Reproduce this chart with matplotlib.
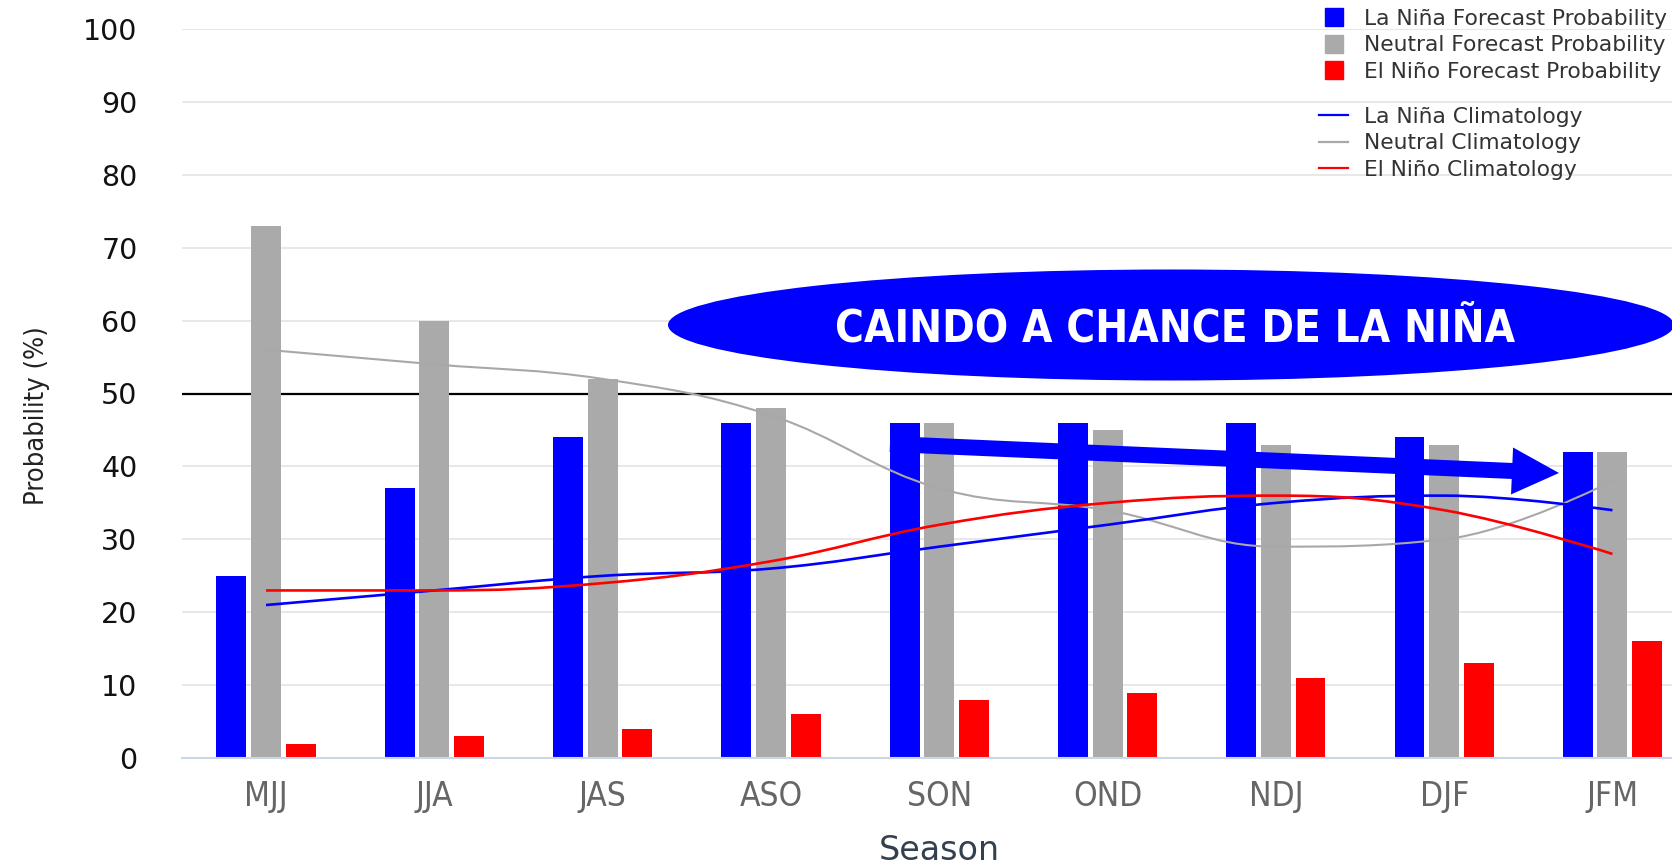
import matplotlib
matplotlib.use("Agg")
import matplotlib.pyplot as plt
import numpy as np
from matplotlib.path import Path
from matplotlib.patches import PathPatch, Ellipse, FancyArrow
from matplotlib.lines import Line2D
from matplotlib.transforms import Affine2D
import matplotlib.font_manager as fm

# ---------------- data ----------------
seasons = ["MJJ", "JJA", "JAS", "ASO", "SON", "OND", "NDJ", "DJF", "JFM"]
lanina_prob = [25, 37, 44, 46, 46, 46, 46, 44, 42]
neutral_prob = [73, 60, 52, 48, 46, 45, 43, 43, 42]
elnino_prob = [2, 3, 4, 6, 8, 9, 11, 13, 16]
lanina_clim = [21, 23, 25, 26, 29, 32, 35, 36, 34]
neutral_clim = [56, 54, 52, 47, 37, 34, 29, 30, 38]
elnino_clim = [23, 23, 24, 27, 32, 35, 36, 34, 28]
y_ticks = [0, 10, 20, 30, 40, 50, 60, 70, 80, 90, 100]
bar_labels = ["La Niña Forecast Probability", "Neutral Forecast Probability",
              "El Niño Forecast Probability"]
line_labels = ["La Niña Climatology", "Neutral Climatology", "El Niño Climatology"]
annotation = "CAINDO A CHANCE DE LA NIÑA"

BLUE, GRAY, RED = "#0000ff", "#aaaaaa", "#ff0000"
GRAYLINE = "#a8a8a8"

avail = {f.name for f in fm.fontManager.ttflist}
HAS_NARROW = "Liberation Sans Narrow" in avail
if HAS_NARROW:
    NARROW = dict(fontfamily=["Liberation Sans Narrow", "DejaVu Sans"])
else:
    NARROW = dict(fontfamily=["DejaVu Sans"], fontstretch="condensed")

W, H = 1672, 865
fig = plt.figure(figsize=(W / 100, H / 100), dpi=100)
fig.patch.set_facecolor("white")
pix = Affine2D().scale(1 / 100, -1 / 100).translate(0, H / 100) + fig.dpi_scale_trans

ax_left, ax_right = 181.9, 1696.6
ax_top, ax_bot = 28.8, 758.2
ax = fig.add_axes([ax_left / W, 1 - ax_bot / H, (ax_right - ax_left) / W, (ax_bot - ax_top) / H])
ax.set_xlim(-0.5, len(seasons) - 0.5)
ax.set_ylim(0, 100)

x = np.arange(len(seasons))
bw = 0.178
off = 0.206
ax.bar(x - off, lanina_prob, bw, color=BLUE, zorder=2)
ax.bar(x, neutral_prob, bw, color=GRAY, zorder=2)
ax.bar(x + off, elnino_prob, bw, color=RED, zorder=2)


def hc_spline(xs, ys, smoothing=1.5):
    n = len(xs)
    left = [None] * n
    right = [None] * n
    right[0] = (xs[0], ys[0])
    left[n - 1] = (xs[-1], ys[-1])
    d = smoothing + 1
    for i in range(1, n - 1):
        px, py = xs[i], ys[i]
        lx, ly = xs[i - 1], ys[i - 1]
        nx, ny = xs[i + 1], ys[i + 1]
        lcx = (smoothing * px + lx) / d
        lcy = (smoothing * py + ly) / d
        rcx = (smoothing * px + nx) / d
        rcy = (smoothing * py + ny) / d
        if rcx != lcx:
            corr = ((rcy - lcy) * (rcx - px)) / (rcx - lcx) + py - rcy
            lcy += corr
            rcy += corr
        if lcy > ly and lcy > py:
            lcy = max(ly, py); rcy = 2 * py - lcy
        elif lcy < ly and lcy < py:
            lcy = min(ly, py); rcy = 2 * py - lcy
        if rcy > ny and rcy > py:
            rcy = max(ny, py); lcy = 2 * py - rcy
        elif rcy < ny and rcy < py:
            rcy = min(ny, py); lcy = 2 * py - rcy
        left[i] = (lcx, lcy)
        right[i] = (rcx, rcy)
    verts = [(xs[0], ys[0])]
    codes = [Path.MOVETO]
    for i in range(1, n):
        verts += [right[i - 1], left[i], (xs[i], ys[i])]
        codes += [Path.CURVE4] * 3
    return Path(verts, codes)


for vals, col, lw in [(neutral_clim, GRAYLINE, 1.5), (lanina_clim, BLUE, 1.9), (elnino_clim, RED, 1.9)]:
    ax.add_patch(PathPatch(hc_spline(list(x.astype(float)), list(map(float, vals))),
                           fill=False, edgecolor=col, lw=lw, zorder=3, capstyle="butt"))

# grid & axes styling
ax.set_yticks(y_ticks)
ax.yaxis.grid(True, color="#e6e6e6", lw=1.3, zorder=0)
ax.set_axisbelow(True)
ax.axhline(50, color="black", lw=1.6, zorder=1)
for s in ["left", "right", "top"]:
    ax.spines[s].set_visible(False)
ax.spines["bottom"].set_color("#ccd6eb")
ax.spines["bottom"].set_linewidth(1.5)
ax.spines["bottom"].set_zorder(2.5)
ax.tick_params(axis="both", length=0)
ax.tick_params(axis="y", pad=32, labelsize=20.5, labelcolor="#111111")
ax.set_xticks(x)
ax.set_xticklabels(seasons, fontsize=(24 if HAS_NARROW else 24), color="#666666", **NARROW)
ax.tick_params(axis="x", pad=16)
for t in ax.get_yticklabels():
    t.set_fontfamily("DejaVu Sans")

ax.set_xlabel("Season", fontfamily="DejaVu Sans", fontsize=24, color="#34404d")
ax.xaxis.set_label_coords(0.5, (ax_bot - 850) / (ax_bot - ax_top))
ax.xaxis.label.set_va("center")
ax.set_ylabel("Probability (%)", fontsize=(23 if HAS_NARROW else 19.5), color="#222222", **NARROW)
ax.yaxis.set_label_coords((37 - ax_left) / (ax_right - ax_left), (ax_bot - 416) / (ax_bot - ax_top))
ax.yaxis.label.set_va("center")
ax.yaxis.label.set_ha("center")

# legends
fs_leg = 15.7
bar_handles = [Line2D([], [], marker="s", markersize=13.5, linestyle="none", color=c) for c in (BLUE, GRAY, RED)]
line_handles = [Line2D([], [], color=c, lw=1.6) for c in (BLUE, GRAYLINE, RED)]
common = dict(loc="upper left", bbox_transform=fig.transFigure, frameon=False, borderpad=0,
              borderaxespad=0, fontsize=fs_leg, handlelength=1.35, handletextpad=0.7,
              labelspacing=0.29, labelcolor="#333333")
leg1 = fig.legend(bar_handles, bar_labels, bbox_to_anchor=(1319 / W, 1 - 9 / H), **common)
leg2 = fig.legend(line_handles, line_labels, bbox_to_anchor=(1319 / W, 1 - 107 / H), **common)

# annotation ellipse, text and arrow
ell = Ellipse((1171, 325), 1006, 111, transform=pix, facecolor=BLUE, edgecolor="none", zorder=5)
fig.add_artist(ell)
fig.text(1175.5 / W, 1 - 341 / H, annotation, color="white",
         fontsize=(38.5 if HAS_NARROW else 31.5), fontweight="bold",
         ha="center", va="baseline", zorder=6, **NARROW)

x0, y0, x1, y1 = 890, 444, 1559, 473
arr = FancyArrow(x0, y0, x1 - x0, y1 - y0, width=16, head_width=47, head_length=47,
                 length_includes_head=True, transform=pix, color=BLUE, zorder=5, lw=0)
fig.add_artist(arr)

fig.savefig("out.png", dpi=100, facecolor="white")
